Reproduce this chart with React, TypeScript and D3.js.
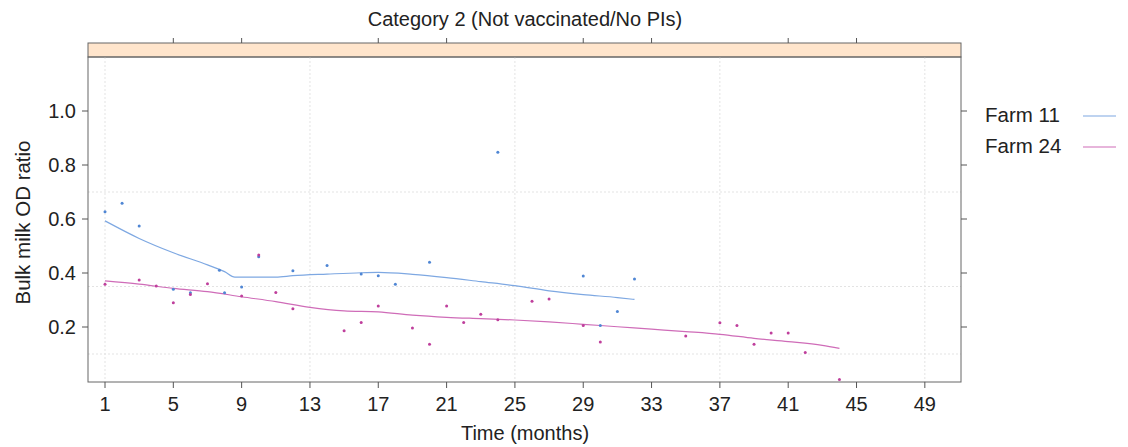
import React from "react";
import * as d3 from "d3";

const farm11X = [1, 2, 3, 5, 6, 7.7, 8, 9, 10, 12, 14, 16, 17, 18, 20, 24, 29, 30, 31, 32];
const farm11Y = [0.627, 0.658, 0.574, 0.34, 0.327, 0.41, 0.327, 0.348, 0.46, 0.408, 0.428, 0.396, 0.39, 0.358, 0.44, 0.847, 0.389, 0.206, 0.257, 0.378];

const farm24X = [1, 3, 4, 5, 6, 7, 9, 10, 11, 12, 15, 16, 17, 19, 20, 21, 22, 23, 24, 26, 27, 29, 30, 35, 37, 38, 39, 40, 41, 42, 44];
const farm24Y = [0.358, 0.374, 0.352, 0.29, 0.32, 0.36, 0.315, 0.467, 0.328, 0.268, 0.186, 0.217, 0.278, 0.196, 0.136, 0.278, 0.217, 0.247, 0.227, 0.295, 0.304, 0.206, 0.144, 0.167, 0.216, 0.206, 0.136, 0.178, 0.178, 0.106, 0.006];

const fit11X = [1, 3, 5, 7, 8, 8.6, 11, 12, 14, 16, 17, 19, 21, 23, 25, 27, 29, 31, 32];
const fit11Y = [0.593, 0.528, 0.475, 0.43, 0.405, 0.385, 0.385, 0.39, 0.396, 0.401, 0.402, 0.395, 0.383, 0.368, 0.353, 0.334, 0.32, 0.309, 0.302];

const fit24X = [1, 3, 5, 7, 9, 11, 13, 15, 17, 19, 21, 23, 25, 27, 29, 31, 33, 35, 37, 39, 41, 43, 44];
const fit24Y = [0.371, 0.359, 0.343, 0.331, 0.312, 0.294, 0.273, 0.26, 0.256, 0.244, 0.236, 0.231, 0.226, 0.219, 0.21, 0.201, 0.192, 0.183, 0.173, 0.158, 0.146, 0.132, 0.121];

const xTicks = [1, 5, 9, 13, 17, 21, 25, 29, 33, 37, 41, 45, 49];
const xTopTicks = [5, 9, 17, 21, 29, 33, 41, 45];
const xGrid = [1, 13, 25, 37, 49];
const yTicks = [0.2, 0.4, 0.6, 0.8, 1.0];
const yGrid = [0.1, 0.35, 0.7];

const seriesNames = ["Farm 11", "Farm 24"];
const pointColors = ["#4f86d4", "#bf3f9c"];
const lineColors = ["#7ea8e2", "#cf6cb8"];

const W = 1128;
const H = 447;
const left = 88;
const right = 961;
const top = 57;
const bottom = 382;
const stripTop = 43;
const font = "'Liberation Sans', Arial, Helvetica, sans-serif";

export default function App() {
  const x = d3.scaleLinear().domain([1, 2]).range([105, 105 + 17.08]);
  const y = d3.scaleLinear().domain([0, 1]).range([381, 111]);
  const line = d3
    .line<[number, number]>()
    .x((d) => x(d[0]))
    .y((d) => y(d[1]))
    .curve(d3.curveMonotoneX);

  const fits = [
    fit11X.map((v, i) => [v, fit11Y[i]] as [number, number]),
    fit24X.map((v, i) => [v, fit24Y[i]] as [number, number]),
  ];
  const pts = [
    farm11X.map((v, i) => [v, farm11Y[i]]),
    farm24X.map((v, i) => [v, farm24Y[i]]),
  ];

  return (
    <svg width={W} height={H} style={{ position: "absolute", left: 0, top: 0, background: "#fff" }} fontFamily={font}>
      <text x={525} y={26} fontSize={20} textAnchor="middle" fill="#222">
        Category 2 (Not vaccinated/No PIs)
      </text>
      {/* strip */}
      <rect x={left} y={stripTop} width={right - left} height={top - stripTop} fill="#ffe5cc" stroke="#666" strokeWidth={1} />
      {/* grid */}
      {xGrid.map((g) => (
        <line key={"gx" + g} x1={x(g)} x2={x(g)} y1={top} y2={bottom} stroke="#e3e3e3" strokeDasharray="2,2" strokeWidth={1} />
      ))}
      {yGrid.map((g) => (
        <line key={"gy" + g} x1={left} x2={right} y1={y(g)} y2={y(g)} stroke="#e3e3e3" strokeDasharray="2,2" strokeWidth={1} />
      ))}
      {/* fits */}
      {fits.map((f, i) => (
        <path key={"f" + i} d={line(f) || ""} fill="none" stroke={lineColors[i]} strokeWidth={1.2} />
      ))}
      {/* points */}
      {pts.map((s, i) =>
        s.map((p, j) => (
          <circle key={"p" + i + "-" + j} cx={x(p[0])} cy={y(p[1])} r={1.5} fill={pointColors[i]} />
        ))
      )}
      {/* panel frame */}
      <rect x={left} y={top} width={right - left} height={bottom - top} fill="none" stroke="#666" strokeWidth={1} />
      {/* bottom axis */}
      {xTicks.map((t) => (
        <g key={"xt" + t}>
          <line x1={x(t)} x2={x(t)} y1={bottom} y2={bottom + 6} stroke="#555" />
          <text x={x(t)} y={bottom + 29} fontSize={20} textAnchor="middle" fill="#222">
            {t}
          </text>
        </g>
      ))}
      {xTopTicks.map((t) => (
        <line key={"xtt" + t} x1={x(t)} x2={x(t)} y1={stripTop} y2={stripTop - 5} stroke="#555" />
      ))}
      {yTicks.map((t) => (
        <g key={"yt" + t}>
          <line x1={left - 6} x2={left} y1={y(t)} y2={y(t)} stroke="#555" />
          <line x1={right} x2={right + 6} y1={y(t)} y2={y(t)} stroke="#555" />
          <text x={left - 12} y={y(t) + 7} fontSize={20} textAnchor="end" fill="#222">
            {d3.format(".1f")(t)}
          </text>
        </g>
      ))}
      <text x={525} y={440} fontSize={20} textAnchor="middle" fill="#222">
        Time (months)
      </text>
      <text transform={`translate(30,${(top + bottom) / 2 + 3}) rotate(-90)`} fontSize={20.5} textAnchor="middle" fill="#222">
        Bulk milk OD ratio
      </text>
      {/* legend */}
      {seriesNames.map((n, i) => (
        <g key={"lg" + i}>
          <text x={985} y={122 + i * 31} fontSize={20.5} fill="#222">
            {n}
          </text>
          <line x1={1083} x2={1116} y1={116 + i * 31} y2={116 + i * 31} stroke={lineColors[i]} strokeWidth={1.2} />
        </g>
      ))}
    </svg>
  );
}
